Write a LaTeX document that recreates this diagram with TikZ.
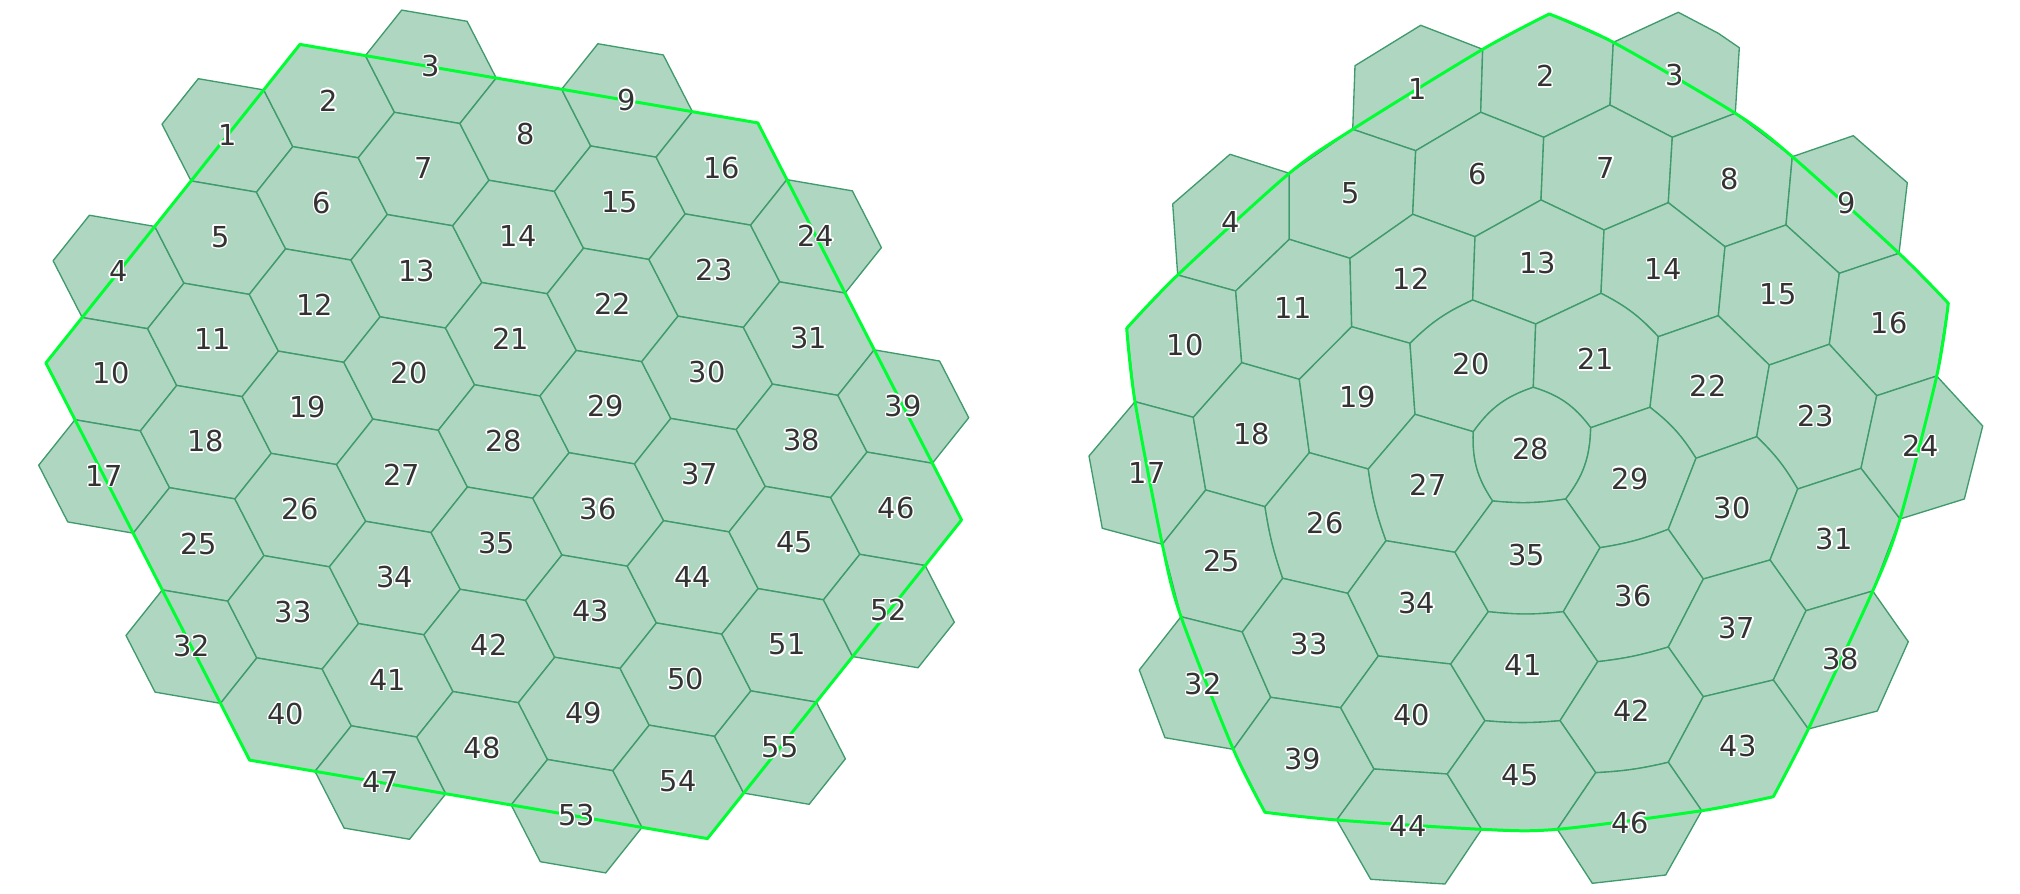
\documentclass[tikz,border=0pt]{standalone}
\usepackage{fontspec}
\setmainfont{DejaVu Sans}
\usepackage{contour}
\contourlength{0.4pt}
\definecolor{cellfill}{RGB}{174,214,193}
\definecolor{celledge}{RGB}{64,155,108}
\definecolor{boundgreen}{RGB}{0,255,50}
\definecolor{labgray}{RGB}{51,51,51}
\tikzset{
  cell/.style={fill=cellfill, draw=celledge, line width=0.38pt, line join=round},
  bound/.style={draw=boundgreen, line width=0.85pt, line join=round, line cap=round},
  lab/.style={text=labgray, font=\fontsize{8.2}{10}\selectfont, inner sep=0pt}
}

\begin{document}
\begin{tikzpicture}[x=0.01cm, y=-0.01cm]
\useasboundingbox (0,0) rectangle (2020,894);

% left: regular grid, rows of cells
\foreach \j/\imin/\imax/\first in {0/0/2/1, 1/-1/4/4, 2/-1/5/10, 3/-1/6/17, 4/0/6/25, 5/0/7/32, 6/1/7/40, 7/2/7/47, 8/4/6/53}{
  \foreach \i in {\imin,...,\imax}{
    \pgfmathsetmacro\cx{227.4+101.7*\i-7.2*\j}
    \pgfmathsetmacro\cy{135.4-34.3*\i+102.25*\j}
    \filldraw[cell, shift={(\cx,\cy)}] (65.4,11.2) -- (29.1,56.7) -- (-36.3,45.5) -- (-65.4,-11.2) -- (-29.1,-56.7) -- (36.3,-45.5) -- cycle;
  }
}
\draw[bound] (300,44.4) -- (757.8,122.9) -- (961.5,520) -- (707.4,838.6) -- (249.6,760.1) -- (45.9,363) -- cycle;
\foreach \j/\imin/\imax/\first in {0/0/2/1, 1/-1/4/4, 2/-1/5/10, 3/-1/6/17, 4/0/6/25, 5/0/7/32, 6/1/7/40, 7/2/7/47, 8/4/6/53}{
  \foreach \i in {\imin,...,\imax}{
    \pgfmathtruncatemacro\num{\first+\i-\imin}
    \pgfmathsetmacro\cx{227.4+101.7*\i-7.2*\j}
    \pgfmathsetmacro\cy{135.4-34.3*\i+102.25*\j}
    \node[lab] (l\num) at (\cx,\cy) {\contour{white}{\num}};
  }
}

% right: relaxed mesh, corner points
\foreach \n/\px/\py in {1/1355/65.7, 2/1420.7/25.3, 3/1482.7/49.3, 4/1480.7/112.3, 5/1415.7/150.7, 6/1352.7/129.3,
  7/1549.3/14, 8/1613.3/42.3, 9/1610/105, 10/1543.7/137.3, 11/1678.3/12.3, 12/1718.3/33.3, 13/1739.3/47.7,
  14/1735.3/113.3, 15/1672.3/137.3, 16/1172.7/204, 18/1230/154.3, 19/1289.3/173.3, 20/1289.3/239.3,
  21/1235.7/291, 22/1177.7/275, 23/1412.7/214.3, 24/1350/258.3, 25/1541/200, 26/1475/236.7, 27/1668.3/202.7,
  28/1604/230, 29/1792.3/156.7, 30/1786/225, 31/1725/246.7, 32/1853.3/135.7, 33/1907.3/182.7, 34/1899/253.3,
  35/1839.3/273.3, 36/1126.7/328.3, 37/1241.7/362.7, 38/1193.3/417.3, 39/1135/401.7, 40/1351.7/326.7,
  41/1299.3/379.3, 42/1472.7/300, 43/1410/343.3, 44/1601/293.3, 45/1535.7/324, 46/1718.3/315.7,
  47/1658.3/336.7, 48/1829.3/344.3, 49/1769.3/365, 50/1948.3/303.3, 51/1936.7/376, 52/1876.7/395.7,
  53/1089/456, 54/1205.7/490, 55/1162.3/544.3, 56/1102.3/528.3, 57/1309.3/452.7, 58/1265/506.7,
  59/1415/414.3, 60/1368.3/469, 61/1533.3/387.3, 62/1473.3/431.7, 63/1650/407.3, 64/1590.7/427.7,
  65/1756.7/436.7, 66/1696/458.3, 67/1861/468.3, 68/1797.7/489, 69/1982.7/426, 70/1964.3/499, 71/1900/519,
  72/1282.7/578.3, 73/1242.3/632, 74/1181/616.7, 75/1386/540.7, 76/1347.7/593.3, 77/1492.7/501,
  78/1455/552.3, 79/1565.7/499, 80/1668.3/529.3, 81/1600/547.7, 82/1770/560, 83/1703.3/579, 84/1872.7/591,
  85/1806/610.7, 86/1139.3/670, 87/1270.7/697.3, 88/1233.3/749.3, 89/1165/737.7, 90/1378.3/656,
  91/1340.7/707.7, 92/1488.3/611.7, 93/1450.7/664, 94/1563.3/611.7, 95/1668.3/647, 96/1597.7/661.7,
  97/1773.3/680, 98/1703.3/696.7, 99/1908.3/641.7, 100/1877.3/711, 101/1808.3/729, 102/1374/769,
  103/1336.7/820, 104/1265/812.3, 105/1485/720.7, 106/1447.3/774, 107/1560/720.7, 108/1595.7/772.7,
  109/1668.3/762.3, 110/1773.3/796.7, 111/1701.7/810.7, 112/1481.7/829.3, 113/1445/884, 114/1370.7/879.3,
  115/1557.3/829.3, 116/1665.7/875, 117/1592.3/883.3}
  \coordinate (q\n) at (\px,\py);

\filldraw[cell] (q1) -- (q2) -- (q3) -- (q4) -- (q5) -- (q6) -- cycle;
\filldraw[cell] (q3) -- (q7) -- (q8) -- (q9) -- (q10) -- (q4) -- cycle;
\filldraw[cell] (q8) -- (q11) -- (q12) -- (q13) -- (q14) -- (q15) -- (q9) -- cycle;
\filldraw[cell] (q16) -- (q18) -- (q19) -- (q20) -- (q21) -- (q22) -- cycle;
\filldraw[cell] (q19) -- (q6) -- (q5) -- (q23) -- (q24) -- (q20) -- cycle;
\filldraw[cell] (q5) -- (q4) -- (q10) -- (q25) -- (q26) -- (q23) -- cycle;
\filldraw[cell] (q10) -- (q9) -- (q15) -- (q27) -- (q28) -- (q25) -- cycle;
\filldraw[cell] (q15) -- (q14) -- (q29) -- (q30) -- (q31) -- (q27) -- cycle;
\filldraw[cell] (q29) -- (q32) -- (q33) -- (q34) -- (q35) -- (q30) -- cycle;
\filldraw[cell] (q36) -- (q22) -- (q21) -- (q37) -- (q38) -- (q39) -- cycle;
\filldraw[cell] (q21) -- (q20) -- (q24) -- (q40) -- (q41) -- (q37) -- cycle;
\filldraw[cell] (q24) -- (q23) -- (q26) -- (q42) to[bend right=10] (q43) -- (q40) -- cycle;
\filldraw[cell] (q26) -- (q25) -- (q28) -- (q44) -- (q45) -- (q42) -- cycle;
\filldraw[cell] (q28) -- (q27) -- (q31) -- (q46) -- (q47) to[bend right=10] (q44) -- cycle;
\filldraw[cell] (q31) -- (q30) -- (q35) -- (q48) -- (q49) -- (q46) -- cycle;
\filldraw[cell] (q35) -- (q34) -- (q50) -- (q51) -- (q52) -- (q48) -- cycle;
\filldraw[cell] (q53) -- (q39) -- (q38) -- (q54) -- (q55) -- (q56) -- cycle;
\filldraw[cell] (q38) -- (q37) -- (q41) -- (q57) -- (q58) -- (q54) -- cycle;
\filldraw[cell] (q41) -- (q40) -- (q43) -- (q59) -- (q60) -- (q57) -- cycle;
\filldraw[cell] (q43) to[bend left=10] (q42) -- (q45) -- (q61) to[bend right=18] (q62) -- (q59) -- cycle;
\filldraw[cell] (q45) -- (q44) to[bend left=10] (q47) -- (q63) -- (q64) to[bend right=18] (q61) -- cycle;
\filldraw[cell] (q47) -- (q46) -- (q49) -- (q65) -- (q66) to[bend right=10] (q63) -- cycle;
\filldraw[cell] (q49) -- (q48) -- (q52) -- (q67) -- (q68) to[bend right=8] (q65) -- cycle;
\filldraw[cell] (q52) -- (q51) -- (q69) -- (q70) -- (q71) -- (q67) -- cycle;
\filldraw[cell] (q55) -- (q54) -- (q58) to[bend right=5] (q72) -- (q73) -- (q74) -- cycle;
\filldraw[cell] (q72) to[bend left=5] (q58) -- (q57) -- (q60) to[bend right=6] (q75) -- (q76) -- cycle;
\filldraw[cell] (q75) to[bend left=6] (q60) -- (q59) -- (q62) to[bend right=18] (q77) -- (q78) -- cycle;
\filldraw[cell] (q62) to[bend left=18] (q61) to[bend left=18] (q64) to[bend left=18] (q79) to[bend left=7] (q77) to[bend left=18] (q62) -- cycle;
\filldraw[cell] (q79) to[bend right=18] (q64) -- (q63) to[bend left=10] (q66) -- (q80) to[bend left=6] (q81) -- cycle;
\filldraw[cell] (q66) -- (q65) to[bend left=8] (q68) -- (q82) -- (q83) -- (q80) -- cycle;
\filldraw[cell] (q68) -- (q67) -- (q71) -- (q84) -- (q85) -- (q82) -- cycle;
\filldraw[cell] (q86) -- (q74) -- (q73) -- (q87) -- (q88) -- (q89) -- cycle;
\filldraw[cell] (q73) -- (q72) -- (q76) -- (q90) -- (q91) -- (q87) -- cycle;
\filldraw[cell] (q76) -- (q75) -- (q78) -- (q92) -- (q93) -- (q90) -- cycle;
\filldraw[cell] (q78) -- (q77) to[bend right=7] (q79) -- (q81) -- (q94) to[bend left=6] (q92) -- cycle;
\filldraw[cell] (q94) -- (q81) to[bend right=6] (q80) -- (q83) -- (q95) to[bend left=5] (q96) -- cycle;
\filldraw[cell] (q83) -- (q82) -- (q85) -- (q97) -- (q98) -- (q95) -- cycle;
\filldraw[cell] (q85) -- (q84) -- (q99) -- (q100) -- (q101) -- (q97) -- cycle;
\filldraw[cell] (q88) -- (q87) -- (q91) -- (q102) -- (q103) -- (q104) -- cycle;
\filldraw[cell] (q91) -- (q90) -- (q93) -- (q105) -- (q106) -- (q102) -- cycle;
\filldraw[cell] (q93) -- (q92) to[bend right=6] (q94) -- (q96) -- (q107) to[bend left=5] (q105) -- cycle;
\filldraw[cell] (q107) -- (q96) to[bend right=5] (q95) -- (q98) -- (q109) to[bend left=5] (q108) -- cycle;
\filldraw[cell] (q98) -- (q97) -- (q101) -- (q110) -- (q111) -- (q109) -- cycle;
\filldraw[cell] (q103) -- (q102) -- (q106) -- (q112) -- (q113) -- (q114) -- cycle;
\filldraw[cell] (q106) -- (q105) to[bend right=5] (q107) -- (q108) -- (q115) to[bend left=5] (q112) -- cycle;
\filldraw[cell] (q115) -- (q108) to[bend right=5] (q109) -- (q111) -- (q116) -- (q117) -- cycle;

% right boundary
\draw[bound] plot[smooth] coordinates {(q36) (q39) (q55) (q74) (q88) (q104)};
\draw[bound] plot[smooth] coordinates {(q104) (q103) (q112) (q115) (q111) (q110)};
\draw[bound] plot[smooth] coordinates {(q110) (q101) (q84) (q71) (q51) (q50)};
\draw[bound] plot[smooth] coordinates {(q50) (q34) (q29) (q14) (q8) (q7)};
\draw[bound] plot[smooth] coordinates {(q7) (q3) (q6) (q19) (q22) (q36)};

\foreach \n/\px/\py in {1/1417.3/89.3, 2/1545.7/76.7, 3/1674.3/76, 4/1231/222.7, 5/1350.7/194, 6/1477.7/175,
  7/1606/168.3, 8/1730/180, 9/1846.7/204, 10/1185/346, 11/1293.3/308.3, 12/1411/279.3, 13/1537.7/263.3,
  14/1663.3/270, 15/1778.3/295, 16/1889/324, 17/1147.3/473.3, 18/1251.7/435, 19/1357.7/397.3, 20/1471/365,
  21/1595.7/360, 22/1708.3/386.7, 23/1815.7/416.7, 24/1920.7/446.7, 25/1221.7/561.7, 26/1325/524,
  27/1428.3/486, 28/1530.7/449.3, 29/1630/479.3, 30/1732.3/509, 31/1834.3/539.3, 32/1203.3/685,
  33/1309.3/645, 34/1416.7/603.3, 35/1526.7/556, 36/1633.3/596.7, 37/1736.7/629, 38/1840.7/660,
  39/1302.7/760, 40/1411.7/716, 41/1523.3/666, 42/1631.7/711, 43/1738.3/746.7, 44/1408.3/826.7,
  45/1520/776, 46/1630/823.3}
  \node[lab] (r\n) at (\px,\py) {\contour{white}{\n}};
\end{tikzpicture}
\end{document}
